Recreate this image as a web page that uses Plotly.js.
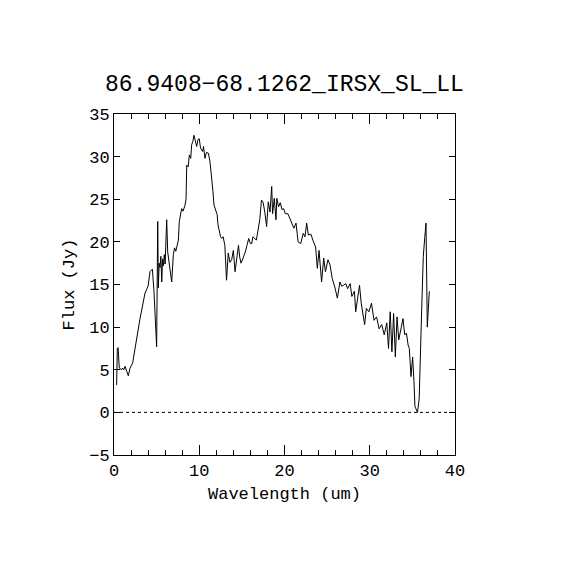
<!DOCTYPE html>
<html>
<head>
<meta charset="utf-8">
<script src="https://cdn.plot.ly/plotly-3.0.1.min.js"></script>
<style>html,body{margin:0;padding:0;background:#fff;}#chart{width:570px;height:570px;}</style>
</head>
<body>
<div id="chart"></div>
<script>
var chartTitle = "86.9408\u221268.1262_IRSX_SL_LL";
var xLabel = "Wavelength (um)";
var yLabel = "Flux (Jy)";

var wavelength = [
  0.31, 0.39, 0.48, 0.62, 0.9, 1.0, 1.15, 1.3, 1.5, 1.68, 1.88, 2.19, 3.05, 3.64, 4.0, 4.22, 4.5, 4.69,
  5.0, 5.13, 5.2, 5.3, 5.4, 5.5, 5.6, 5.7, 5.8, 5.9, 6.0, 6.18, 6.3, 6.45, 6.57, 6.77, 6.96, 7.1, 7.25,
  7.4, 7.55, 7.66, 7.8, 7.94, 8.1, 8.33, 8.45, 8.53, 8.7, 8.84, 9.0, 9.11, 9.25, 9.38, 9.5, 9.7, 9.85,
  10.0, 10.15, 10.4, 10.5, 10.67, 10.85, 11.07, 11.26, 11.46, 11.6, 11.73, 11.9, 12.1, 12.2, 12.36,
  12.5, 12.63, 12.8, 13.0, 13.2, 13.4, 13.6, 13.8, 14.0, 14.2, 14.4, 14.6, 14.75, 14.9, 15.1, 15.4,
  15.6, 15.8, 16.0, 16.15, 16.3, 16.5, 16.7, 16.9, 17.1, 17.3, 17.5, 17.7, 17.9, 18.1, 18.3, 18.5,
  18.6, 18.8, 19.0, 19.1, 19.3, 19.5, 19.7, 19.9, 20.1, 20.4, 20.6, 20.85, 21.1, 21.35, 21.6, 21.9,
  22.05, 22.2, 22.4, 22.6, 22.8, 23.1, 23.4, 23.65, 23.85, 24.05, 24.35, 24.6, 24.8, 25.1, 25.34,
  25.6, 25.9, 26.2, 26.5, 26.7, 26.9, 27.2, 27.4, 27.7, 27.9, 28.2, 28.35, 28.6, 28.8, 29.0, 29.2,
  29.4, 29.6, 29.9, 30.2, 30.5, 30.8, 31.1, 31.4, 31.7, 32.0, 32.2, 32.4, 32.6, 32.8, 33.0, 33.2,
  33.4, 33.7, 33.9, 34.1, 34.3, 34.5, 34.64, 34.84, 35.03, 35.19, 35.3, 35.6, 35.8, 36.09, 36.28,
  36.45, 36.6, 36.75, 36.99
];
var flux = [
  3.2, 7.5, 7.6, 5.2, 5.0, 5.2, 5.0, 5.4, 4.8, 4.3, 5.2, 5.8, 11.0, 14.0, 14.8, 16.5, 16.8, 14.2,
  7.7, 22.4, 14.6, 17.5, 17.0, 18.3, 15.3, 18.0, 17.2, 18.5, 17.4, 22.6, 18.8, 17.5, 16.8, 15.3, 18.5, 19.3, 18.9,
  19.8, 20.2, 22.4, 23.5, 23.9, 23.6, 24.3, 25.0, 29.0, 28.8, 30.2, 29.8, 31.4, 31.8, 32.5, 32.0, 31.2, 32.0,
  32.1, 31.0, 30.6, 31.2, 29.8, 30.5, 30.4, 29.4, 26.7, 26.0, 24.3, 23.8, 23.2, 22.0, 21.2,
  20.6, 20.4, 20.6, 19.6, 15.5, 18.7, 17.6, 17.9, 19.0, 16.5, 18.4, 19.6, 18.2, 17.5, 18.0, 18.8,
  19.6, 20.4, 19.8, 19.8, 20.6, 20.4, 20.2, 21.4, 22.6, 24.9, 24.6, 23.4, 21.8, 24.7, 23.5, 26.5,
  23.3, 25.1, 22.6, 25.1, 24.1, 24.6, 23.8, 23.9, 23.3, 23.3, 22.8, 22.2, 21.6, 22.2, 20.0, 19.8,
  20.5, 21.0, 20.6, 22.2, 20.8, 20.9, 20.0, 19.4, 16.9, 19.0, 15.3, 18.1, 16.5, 17.9, 17.3,
  15.7, 14.7, 13.4, 15.3, 14.8, 14.9, 15.1, 14.5, 15.1, 13.6, 14.2, 11.8, 13.4, 14.9, 12.8, 11.5,
  10.3, 12.2, 11.8, 12.8, 10.8, 11.2, 9.8, 10.3, 9.1, 10.5, 7.5, 11.8, 7.1, 11.6, 6.5, 11.2,
  8.5, 10.0, 11.0, 9.1, 9.3, 7.9, 7.5, 4.2, 6.5, 3.6, 0.7, 0.0, 1.6, 12.0, 18.3,
  20.5, 22.2, 10.0, 14.2
];

var xRange = [0, 40];
var yRange = [-5, 35];

var fontFam = "'Liberation Mono', 'DejaVu Sans Mono', monospace";

var trace = {
  x: wavelength,
  y: flux,
  type: 'scatter',
  mode: 'lines',
  line: {color: '#000', width: 1},
  hoverinfo: 'skip'
};

var axisCommon = {
  showline: true,
  linecolor: '#000',
  linewidth: 1,
  mirror: 'ticks',
  ticks: 'inside',
  tickcolor: '#000',
  tickwidth: 1,
  showgrid: false,
  zeroline: false,
  tickfont: {family: fontFam, size: 17, color: '#000'}
};

var layout = {
  width: 570,
  height: 570,
  margin: {l: 114, r: 115, t: 114, b: 115},
  paper_bgcolor: '#fff',
  plot_bgcolor: '#fff',
  showlegend: false,
  title: {
    text: chartTitle,
    font: {family: fontFam, size: 23, color: '#000'},
    x: 0.5, xref: 'paper', xanchor: 'center',
    y: 0.855, yref: 'container', yanchor: 'middle'
  },
  xaxis: Object.assign({}, axisCommon, {
    range: xRange,
    tickmode: 'linear', tick0: 0, dtick: 10,
    ticklen: 10,
    minor: {ticks: 'inside', dtick: 2, ticklen: 5, tickcolor: '#000', tickwidth: 1, showgrid: false},
    title: {text: xLabel, font: {family: fontFam, size: 17, color: '#000'}, standoff: 6}
  }),
  yaxis: Object.assign({}, axisCommon, {
    range: yRange,
    tickmode: 'linear', tick0: -5, dtick: 5,
    ticklen: 6,
    title: {text: yLabel, font: {family: fontFam, size: 17, color: '#000'}, standoff: 10}
  }),
  shapes: [{
    type: 'line', xref: 'paper', yref: 'y',
    x0: 0, x1: 1, y0: 0, y1: 0,
    line: {color: '#000', width: 1, dash: 'dot'}
  }]
};

Plotly.newPlot('chart', [trace], layout, {staticPlot: true, displayModeBar: false});
</script>
</body>
</html>
